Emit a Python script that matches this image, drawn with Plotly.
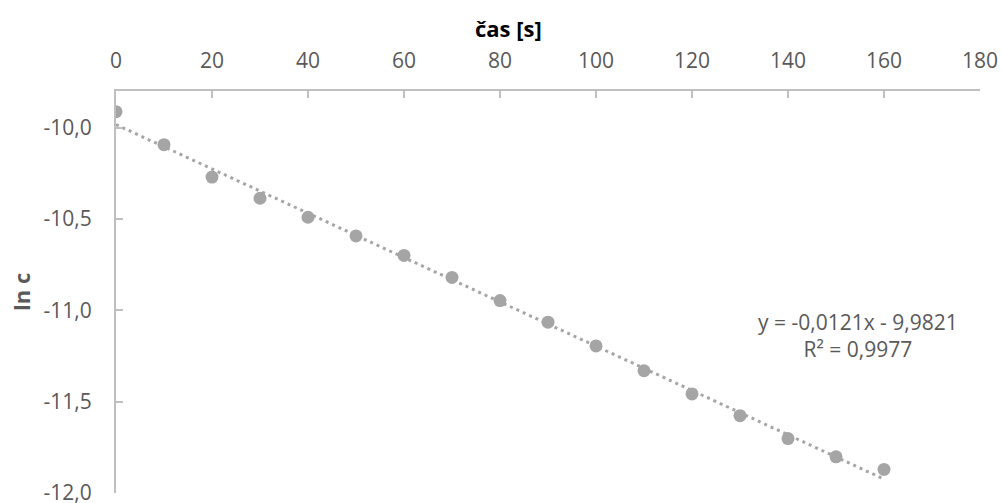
import numpy as np
import plotly.graph_objects as go

# Data
time_s = [0, 10, 20, 30, 40, 50, 60, 70, 80, 90, 100, 110, 120, 130, 140, 150, 160]
ln_c = [-9.913, -10.094, -10.271, -10.387, -10.491, -10.593, -10.700, -10.820,
        -10.947, -11.065, -11.195, -11.331, -11.458, -11.577, -11.702, -11.802, -11.871]
x_ticks = [0, 20, 40, 60, 80, 100, 120, 140, 160, 180]
y_ticks = [-12.0, -11.5, -11.0, -10.5, -10.0]
y_tick_labels = [f"{v:.1f}".replace(".", ",") for v in y_ticks]
equation_text = "y = -0,0121x - 9,9821<br>R² = 0,9977"
x_title = "čas [s]"
y_title = "ln c"

FONT = "Open Sans"
GRAY_TXT = "#595959"
AXIS = "#BFBFBF"
MARK = "#A5A5A5"

slope, intercept = np.polyfit(time_s, ln_c, 1)
trend_x = [min(time_s), max(time_s)]
trend_y = [slope * v + intercept for v in trend_x]

fig = go.Figure()
fig.add_trace(go.Scatter(x=trend_x, y=trend_y, mode="lines",
                         line=dict(color=MARK, width=3, dash="3px,4px"),
                         hoverinfo="skip", showlegend=False))
fig.add_trace(go.Scatter(x=time_s, y=ln_c, mode="markers",
                         marker=dict(color=MARK, size=13, line=dict(width=0)),
                         showlegend=False))

fig.update_layout(
    width=1002, height=503,
    margin=dict(l=116, r=22, t=91, b=10, autoexpand=False),
    paper_bgcolor="white", plot_bgcolor="white",
    font=dict(family=FONT, color=GRAY_TXT, size=21),
    xaxis=dict(range=[0, 180], side="top", tickvals=x_ticks, automargin=False,
               showgrid=False, zeroline=False, showline=True, linecolor=AXIS, linewidth=2,
               ticks="inside", ticklen=7, tickcolor=AXIS, tickwidth=2,
               tickfont=dict(family=FONT, size=21, color=GRAY_TXT),
               ticklabelstandoff=13, ticklabeloverflow="allow"),
    yaxis=dict(range=[-12, -9.8], tickvals=y_ticks, ticktext=y_tick_labels, automargin=False,
               showgrid=False, zeroline=False, showline=True, linecolor=AXIS, linewidth=2,
               ticks="inside", ticklen=7, tickcolor=AXIS, tickwidth=2,
               tickfont=dict(family=FONT, size=21, color=GRAY_TXT),
               ticklabelstandoff=18, ticklabeloverflow="allow"),
    annotations=[
        dict(text=x_title, xref="paper", yref="paper", x=(508 - 116) / 864, y=1 + (91 - 28) / 402,
             showarrow=False, xanchor="center", yanchor="middle",
             font=dict(family=FONT, size=22, color="black", weight="bold")),
        dict(text=y_title, xref="paper", yref="paper", x=(21 - 116) / 864, y=1 - (292 - 91) / 402,
             showarrow=False, xanchor="center", yanchor="middle", textangle=-90,
             font=dict(family=FONT, size=22, color=GRAY_TXT, weight="bold")),
        dict(text=equation_text, xref="x", yref="y", x=154.6, y=-11.14,
             showarrow=False, xanchor="center", yanchor="middle", align="center",
             font=dict(family=FONT, size=21, color=GRAY_TXT)),
    ],
)

fig.write_html("out.html", config={"displayModeBar": False},
               post_script="document.body.style.margin='0px';document.body.style.overflow='hidden';")
